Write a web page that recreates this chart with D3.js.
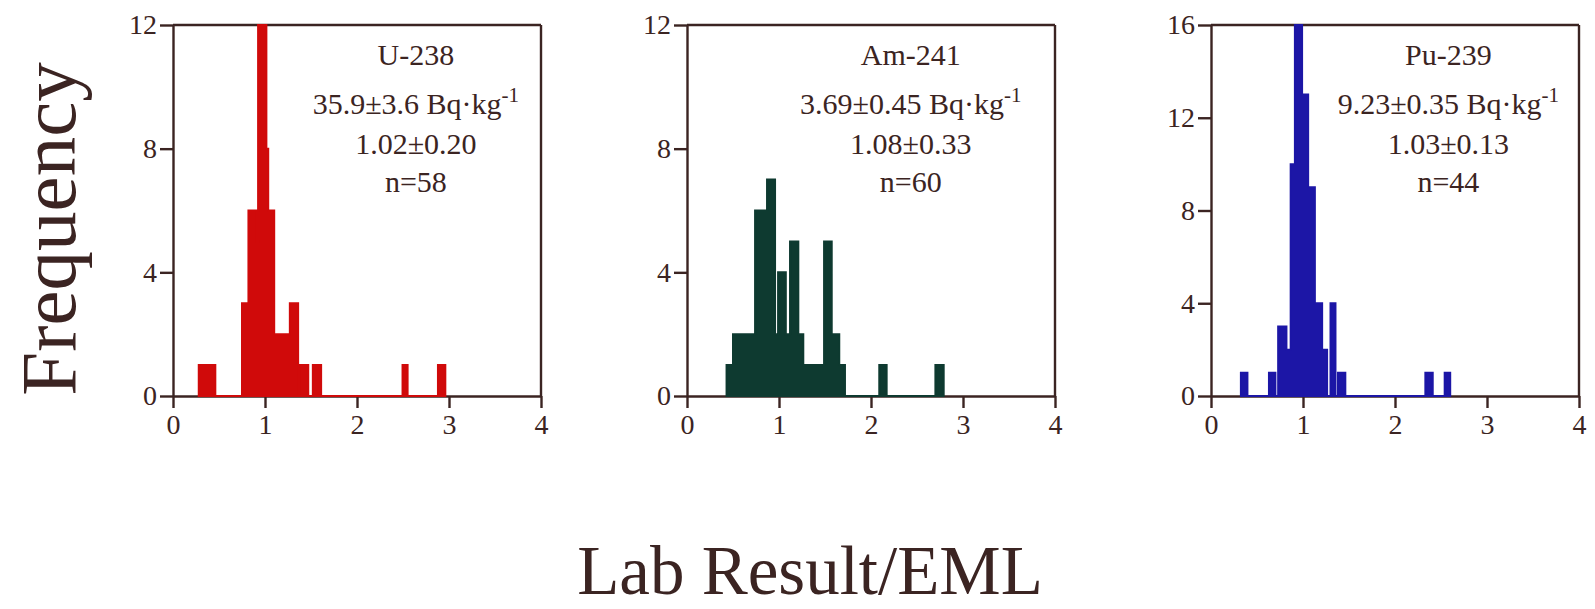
<!DOCTYPE html>
<html>
<head>
<meta charset="utf-8">
<script src="https://cdn.jsdelivr.net/npm/d3@7"></script>
<style>
  html, body { margin: 0; padding: 0; background: #ffffff; }
  svg { display: block; }
  text { font-family: "Liberation Serif", "Times New Roman", serif; fill: #3b2422; }
</style>
</head>
<body>
<svg id="chart" width="1595" height="609"></svg>
<script>
// ---------------- data ----------------
const isotopes   = ["U-238", "Am-241", "Pu-239"];
const activities = ["35.9\u00B13.6", "3.69\u00B10.45", "9.23\u00B10.35"];
const ratios     = ["1.02\u00B10.20", "1.08\u00B10.33", "1.03\u00B10.13"];
const sampleN    = [58, 60, 44];
const yMaxes     = [12, 12, 16];
const yTickVals  = [[0, 4, 8, 12], [0, 4, 8, 12], [0, 4, 8, 12, 16]];
const xTickVals  = [0, 1, 2, 3, 4];
const xDomain    = [0, 4];

// histogram bin edges (Lab Result/EML) and frequencies per bin
const u238Edges = [0.28, 0.46, 0.75, 0.82, 0.91, 0.925, 1.015, 1.035, 1.10, 1.27, 1.36, 1.38, 1.47, 1.52, 1.61, 2.495, 2.55, 2.88, 2.96];
const u238Freq  = [1, 0, 3, 6, 5, 12, 8, 6, 2, 3, 0, 1, 0, 1, 0, 1, 0, 1];

const am241Edges = [0.43, 0.50, 0.74, 0.87, 0.957, 0.99, 1.074, 1.12, 1.21, 1.264, 1.49, 1.573, 1.655, 1.717, 2.09, 2.17, 2.70, 2.79];
const am241Freq  = [1, 2, 6, 7, 2, 4, 2, 5, 2, 1, 5, 2, 1, 0, 1, 0, 1];

const pu239Edges = [0.325, 0.396, 0.63, 0.70, 0.73, 0.82, 0.866, 0.912, 0.99, 1.056, 1.129, 1.208, 1.262, 1.299, 1.353, 1.38, 1.46, 2.33, 2.41, 2.54, 2.60];
const pu239Freq  = [1, 0, 1, 0, 3, 2, 10, 16, 13, 9, 4, 2, 0, 4, 0, 1, 0, 1, 0, 1];

const allEdges = [u238Edges, am241Edges, pu239Edges];
const allFreq  = [u238Freq, am241Freq, pu239Freq];

const xLabel = "Lab Result/EML";
const yLabel = "Frequency";

// ---------------- layout ----------------
const seriesColors = ["#d00a0a", "#0e3a30", "#1c16a6"];
const axisColor = "#3b2422";
const panelLeft = [173, 687, 1211];
const panelW = 368, plotTop = 25, plotBottom = 396;
const textCenterFrac = [0.66, 0.608, 0.645];

const svg = d3.select("#chart");
svg.append("rect").attr("width", 1595).attr("height", 609).attr("fill", "#ffffff");

for (let p = 0; p < 3; p++) {
  const x = d3.scaleLinear().domain(xDomain).range([panelLeft[p], panelLeft[p] + panelW]);
  const y = d3.scaleLinear().domain([0, yMaxes[p]]).range([plotBottom, plotTop]);
  const g = svg.append("g");

  // histogram step path
  const edges = allEdges[p], freq = allFreq[p];
  let d = `M${x(edges[0])},${y(0)}`;
  for (let i = 0; i < freq.length; i++) {
    d += `L${x(edges[i])},${y(freq[i])}L${x(edges[i + 1])},${y(freq[i])}`;
  }
  d += `L${x(edges[edges.length - 1])},${y(0)}Z`;

  // axes
  const yAxis = d3.axisLeft(y).tickValues(yTickVals[p]).tickSize(13).tickSizeOuter(0).tickPadding(3).tickFormat(d3.format("d"));
  const xAxis = d3.axisBottom(x).tickValues(xTickVals).tickSize(12).tickSizeOuter(0).tickPadding(6).tickFormat(d3.format("d"));

  // frame top & right
  g.append("line").attr("x1", x(0)).attr("x2", x(4)).attr("y1", y(yMaxes[p])).attr("y2", y(yMaxes[p]))
    .attr("stroke", axisColor).attr("stroke-width", 2.4);
  g.append("line").attr("x1", x(4)).attr("x2", x(4)).attr("y1", y(yMaxes[p])).attr("y2", y(0))
    .attr("stroke", axisColor).attr("stroke-width", 2.4);

  const ya = g.append("g").attr("transform", `translate(${x(0)},0)`).call(yAxis);
  const xa = g.append("g").attr("transform", `translate(0,${y(0)})`).call(xAxis);
  [ya, xa].forEach(a => {
    a.select(".domain").attr("stroke", axisColor).attr("stroke-width", 2.4);
    a.selectAll(".tick line").attr("stroke", axisColor).attr("stroke-width", 2.4);
    a.selectAll(".tick text").attr("font-size", 28).attr("fill", axisColor)
      .attr("font-family", "'Liberation Serif', 'Times New Roman', serif");
  });

  g.append("path").attr("d", d).attr("fill", seriesColors[p])
    .attr("stroke", seriesColors[p]).attr("stroke-width", 2).attr("stroke-linejoin", "miter");

  // annotation
  const cx = panelLeft[p] + panelW * textCenterFrac[p];
  const t = g.append("g").attr("text-anchor", "middle").attr("font-size", 30);
  t.append("text").attr("x", cx).attr("y", 65).text(isotopes[p]);
  const l2 = t.append("text").attr("x", cx).attr("y", 114);
  l2.append("tspan").text(activities[p] + " Bq\u00B7kg");
  l2.append("tspan").attr("dy", -12).attr("font-size", 21).text("-1");
  t.append("text").attr("x", cx).attr("y", 154).text(ratios[p]);
  t.append("text").attr("x", cx).attr("y", 192).text("n=" + sampleN[p]);
}

// axis titles
svg.append("text").attr("text-anchor", "middle").attr("font-size", 79)
  .attr("transform", "translate(75,229) rotate(-90)").text(yLabel);
svg.append("text").attr("text-anchor", "middle").attr("font-size", 69)
  .attr("x", 810).attr("y", 594).text(xLabel);
</script>
</body>
</html>
